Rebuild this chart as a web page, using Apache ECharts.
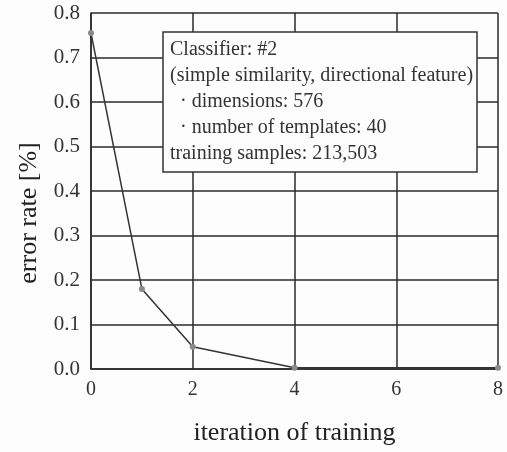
<!DOCTYPE html>
<html>
<head>
<meta charset="utf-8">
<script src="https://cdn.jsdelivr.net/npm/echarts@6/dist/echarts.min.js"></script>
<style>
  html, body { margin: 0; padding: 0; background: #fdfdfd; }
  #main { width: 507px; height: 452px; }
</style>
</head>
<body>
<div id="main"></div>
<script>
// iteration of training vs error rate
var iterations = [0, 1, 2, 4, 8];
var errorRate = [0.755, 0.18, 0.05, 0.003, 0.003];
var yTicks = [0, 0.1, 0.2, 0.3, 0.4, 0.5, 0.6, 0.7, 0.8];
var xTicks = [0, 2, 4, 6, 8];
var boxLines = [
  'Classifier: #2',
  '(simple similarity, directional feature)',
  '  \u00b7 dimensions: 576',
  '  \u00b7 number of templates: 40',
  'training samples: 213,503'
];

var points = iterations.map(function (x, i) { return [x, errorRate[i]]; });
var serif = '"Liberation Serif", "DejaVu Serif", serif';
var gridColor = '#2a2a2a';

var myChart = echarts.init(document.getElementById('main'));
var option = {
  backgroundColor: '#fdfdfd',
  animation: false,
  grid: { left: 91, right: 9, top: 13, bottom: 83 },
  xAxis: {
    type: 'value',
    min: xTicks[0],
    max: xTicks[xTicks.length - 1],
    interval: 2,
    name: 'iteration of training',
    nameLocation: 'middle',
    nameGap: 51,
    nameTextStyle: { fontFamily: serif, fontSize: 26, color: '#222' },
    axisLine: { show: true, lineStyle: { color: gridColor, width: 1.5 } },
    axisTick: { show: false },
    axisLabel: { fontFamily: serif, fontSize: 20, color: '#333', margin: 11 },
    splitLine: { show: true, lineStyle: { color: gridColor, width: 1.5 } }
  },
  yAxis: {
    type: 'value',
    min: yTicks[0],
    max: yTicks[yTicks.length - 1],
    interval: 0.1,
    axisLine: { show: true, lineStyle: { color: gridColor, width: 1.5 } },
    axisTick: { show: false },
    axisLabel: {
      fontFamily: serif, fontSize: 21, color: '#333', margin: 11,
      formatter: function (v) { return v.toFixed(1); }
    },
    splitLine: { show: true, lineStyle: { color: gridColor, width: 1.5 } }
  },
  series: [{
    type: 'line',
    data: points,
    symbol: 'circle',
    symbolSize: 6,
    itemStyle: { color: '#8a8a8a' },
    lineStyle: { color: '#333', width: 1.5 },
    z: 5
  }],
  graphic: [{
    type: 'text',
    x: 29,
    y: 213,
    rotation: Math.PI / 2,
    z: 100,
    style: {
      text: 'error rate [%]',
      fontFamily: serif,
      fontSize: 26,
      fill: '#222',
      align: 'center',
      verticalAlign: 'middle'
    }
  }, {
    type: 'rect',
    shape: { x: 163, y: 32, width: 314, height: 140 },
    style: { fill: '#fdfdfd', stroke: '#333', lineWidth: 1.5 },
    z: 100
  }, {
    type: 'text',
    x: 170,
    y: 37,
    z: 101,
    style: {
      text: boxLines.join('\n'),
      fontFamily: serif,
      fontSize: 20,
      lineHeight: 26,
      fill: '#333'
    }
  }]
};
myChart.setOption(option);
</script>
</body>
</html>
